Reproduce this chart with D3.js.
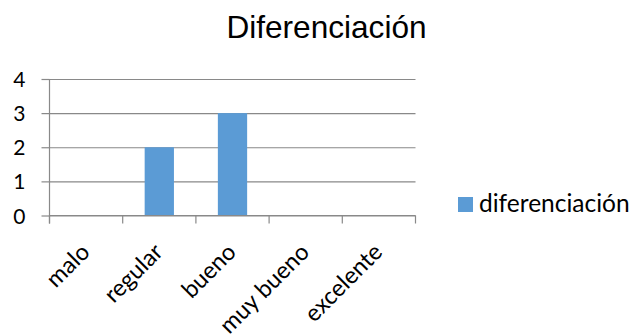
<!DOCTYPE html>
<html>
<head>
<meta charset="utf-8">
<script src="https://cdn.jsdelivr.net/npm/d3@7"></script>
<style>
  html, body { margin: 0; padding: 0; background: #fff; }
  svg { display: block; }
</style>
</head>
<body>
<svg id="chart" width="634" height="334"></svg>
<script>
// Chart data
const categories = ["malo", "regular", "bueno", "muy bueno", "excelente"];
const seriesName = "diferenciación";
const values = [0, 2, 3, 0, 0];
const yTicks = [0, 1, 2, 3, 4];
const titleText = "Diferenciación";

const svg = d3.select("#chart");
const W = 634, H = 334;
const plot = { left: 49.5, right: 415.5, top: 79, bottom: 215.5 };
const barColor = "#5B9BD5";
const gridColor = "#898989";
const labelFont = "Lato, 'Open Sans', sans-serif";

svg.append("rect").attr("width", W).attr("height", H).attr("fill", "#fff");

const x = d3.scaleBand()
  .domain(categories)
  .range([plot.left, plot.right])
  .paddingInner(0.6)
  .paddingOuter(0.3);

const y = d3.scaleLinear()
  .domain([0, 4])
  .range([plot.bottom, plot.top]);

// Title
svg.append("text")
  .attr("x", 326.5)
  .attr("y", 38)
  .attr("text-anchor", "middle")
  .attr("font-family", "'Liberation Sans', Arial, sans-serif")
  .attr("font-size", 31.6)
  .attr("fill", "#000")
  .text(titleText);

// Horizontal gridlines with outward ticks and labels
const yAxis = d3.axisLeft(y)
  .tickValues(yTicks)
  .tickSize(-(plot.right - plot.left))
  .tickPadding(0)
  .tickFormat(d3.format("d"));

const gy = svg.append("g")
  .attr("transform", `translate(${plot.left},0)`)
  .call(yAxis);
gy.select(".domain").remove();
gy.selectAll(".tick line").attr("stroke", gridColor).attr("stroke-width", 1.2);
// short outward tick marks
gy.selectAll(".tick").append("line")
  .attr("x1", -8).attr("x2", 0)
  .attr("stroke", gridColor).attr("stroke-width", 1.2);
gy.selectAll(".tick text")
  .attr("x", -24)
  .attr("dy", "0.36em")
  .attr("font-family", labelFont)
  .attr("font-size", 21)
  .attr("fill", "#000");

// Vertical axis line
svg.append("line")
  .attr("x1", plot.left).attr("x2", plot.left)
  .attr("y1", plot.top).attr("y2", plot.bottom + 8)
  .attr("stroke", gridColor).attr("stroke-width", 1.2);

// Bars
svg.append("g").selectAll("rect")
  .data(values)
  .join("rect")
  .attr("x", (d, i) => x(categories[i]))
  .attr("y", d => y(d))
  .attr("width", x.bandwidth())
  .attr("height", d => y(0) - y(d))
  .attr("fill", barColor);

// Category axis: baseline, boundary ticks and rotated labels
const bounds = d3.range(categories.length + 1).map(i => plot.left + i * (plot.right - plot.left) / categories.length);
const gx = svg.append("g");
gx.append("line")
  .attr("x1", plot.left).attr("x2", plot.right)
  .attr("y1", plot.bottom).attr("y2", plot.bottom)
  .attr("stroke", gridColor).attr("stroke-width", 1.2);
gx.selectAll("line.tk")
  .data(bounds)
  .join("line")
  .attr("class", "tk")
  .attr("x1", d => d).attr("x2", d => d)
  .attr("y1", plot.bottom).attr("y2", plot.bottom + 8)
  .attr("stroke", gridColor).attr("stroke-width", 1.2);
gx.selectAll("text")
  .data(categories)
  .join("text")
  .attr("transform", d => `translate(${x(d) + x.bandwidth() / 2 + 5},${plot.bottom + 38}) rotate(-45)`)
  .attr("text-anchor", "end")
  .attr("font-family", labelFont)
  .attr("font-size", 23.5)
  .attr("fill", "#000")
  .text(d => d);

// Legend
const lg = svg.append("g").attr("transform", "translate(458,197)");
lg.append("rect").attr("width", 15).attr("height", 15).attr("fill", barColor);
lg.append("text")
  .attr("x", 21)
  .attr("y", 15)
  .attr("font-family", labelFont)
  .attr("font-size", 24.5)
  .attr("fill", "#000")
  .text(seriesName);
</script>
</body>
</html>
